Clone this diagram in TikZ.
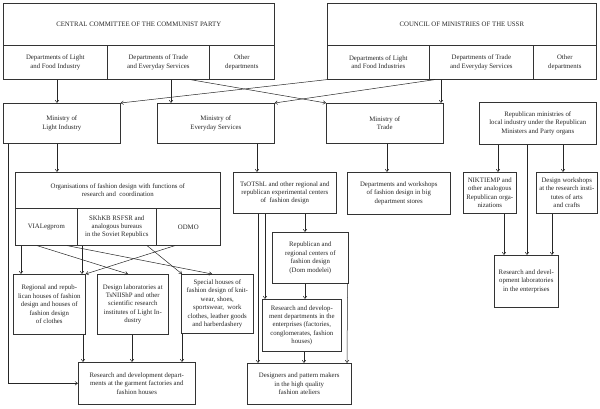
\documentclass[tikz,border=0pt]{standalone}
\usepackage{fontspec}
\setmainfont{Liberation Serif}
\usetikzlibrary{arrows.meta}
\tikzset{
  box/.style={draw=black!80, line width=0.6pt, inner sep=0.5pt, align=center,
    font=\fontsize{6.8}{8.4}\selectfont, text=black!85},
  conn/.style={draw=black!85, line width=0.5pt, -{Straight Barb[length=2.5pt,width=3.6pt]}},
}
\newcommand\mybox[6]{\node[box,anchor=north west,minimum width={(#4-#2)*1pt},minimum height={(#5-#3)*1pt}] (#1) at (#2,#3) {#6};}
\begin{document}
\begin{tikzpicture}[x=1pt,y=-1pt]
\useasboundingbox (0,0) rectangle (600,409);
% top composite boxes
\mybox{cc}{3}{3}{274}{45}{CENTRAL COMMITTEE OF THE COMMUNIST PARTY}
\mybox{ccL}{3}{45}{107}{79}{Departments of Light\\and Food Industry}
\mybox{ccT}{107}{45}{209}{79}{Departments of Trade\\and Everyday Services}
\mybox{ccO}{209}{45}{274}{79}{Other\\departments}
\mybox{cm}{327}{3}{596}{45}{COUNCIL OF MINISTRIES OF THE USSR}
\mybox{cmL}{327}{45}{429}{79}{Departments of Light\\and Food Industries}
\mybox{cmT}{429}{45}{533}{79}{Departments of Trade\\and Everyday Services}
\mybox{cmO}{533}{45}{596}{79}{Other\\departments}
% ministries
\mybox{mlI}{3}{103}{120}{143}{Ministry of\\Light Industry}
\mybox{meS}{157}{103}{274}{143}{Ministry of\\Everyday Services}
\mybox{mTr}{326}{103}{443}{143}{Ministry of\\Trade}
\mybox{rep}{479}{102}{596}{144}{Republican ministries of\\local industry under the Republican\\Ministers and Party organs}
% third row
\mybox{org}{15}{172}{220}{208}{Organisations of fashion design with functions of\\research and\ \ coordination}
\mybox{via}{15}{208}{77}{245}{VIALegprom}
\mybox{skh}{77}{208}{156}{245}{SKhKB RSFSR and\\analogous bureaus\\in the Soviet Republics}
\mybox{odm}{156}{208}{220}{245}{ODMO}
\mybox{tso}{233}{172}{336}{213}{TsOTShL and other regional and\\republican experimental centers\\of\ \ fashion design}
\mybox{dws}{347}{172}{450}{214}{Departments and workshops\\of fashion design in big\\department stores}
\mybox{nik}{463}{172}{516}{213}{NIKTIEMP and\\other analogous\\Republican orga-\\nizations}
\mybox{dwk}{536}{172}{597}{213}{Design workshops\\at the research insti-\\tutes of arts\\and crafts}
% fourth row
\mybox{rgh}{13}{274}{85}{334}{Regional and repub-\\lican houses of fashion\\design and houses of\\fashion design\\of clothes}
\mybox{dlb}{97}{274}{168}{334}{Design laboratories at\\TsNIIShP and other\\scientific research\\institutes of Light In-\\dustry}
\mybox{sph}{181}{274}{253}{333}{Special houses of\\fashion design of knit-\\wear, shoes,\\sportswear,\ \ work\\clothes, leather goods\\and harberdashery}
\mybox{rrc}{272}{232}{348}{283}{Republican and\\regional centers of\\fashion design\\(Dom modelei)}
\mybox{rde}{262}{299}{341}{351}{Research and develop-\\ment departments in the\\enterprises (factories,\\conglomerates, fashion\\houses)}
\mybox{rdl}{494}{255}{558}{307}{Research and devel-\\opment laboratories\\in the enterprises}
% bottom row
\mybox{rdg}{78}{362}{195}{404}{Research and development depart-\\ments at the garment factories and\\fashion houses}
\mybox{dsg}{247}{363}{351}{404}{Designers and pattern makers\\in the high quality\\fashion ateliers}
% connectors: top to ministries
\draw[conn] ([xshift=54pt]ccL.south west) -- ([xshift=54pt]mlI.north west);
\draw[conn] ([xshift=64pt]ccT.south west) -- ([xshift=14pt]meS.north west);
\draw[conn] ([xshift=83pt]ccT.south west) -- (mTr.north west);
\draw[conn] (cmL.south west) -- (mlI.north east);
\draw[conn] ([xshift=6pt]cmT.south west) -- (meS.north east);
\draw[conn] ([xshift=12pt]cmT.south west) -- ([xshift=115pt]mTr.north west);
% ministries to third row
\draw[conn] ([xshift=54pt]mlI.south west) -- ([xshift=42pt]org.north west);
\draw[conn] ([xshift=100pt]meS.south west) -- ([xshift=24pt]tso.north west);
\draw[conn] ([xshift=61pt]mTr.south west) -- ([xshift=40pt]dws.north west);
\draw[conn] ([xshift=19pt]rep.south west) -- ([xshift=35pt]nik.north west);
\draw[conn] ([xshift=48pt]rep.south west) -- ([xshift=33pt]rdl.north west);
\draw[conn] ([xshift=84pt]rep.south west) -- ([xshift=27pt]dwk.north west);
\draw[conn] ([xshift=41pt]nik.south west) -- ([xshift=10pt]rdl.north west);
\draw[conn] ([xshift=16pt]dwk.south west) -- ([xshift=58pt]rdl.north west);
% organisations to fourth row
\draw[conn] ([xshift=6pt]via.south west) -- ([xshift=8pt]rgh.north west);
\draw[conn] ([xshift=22pt]via.south west) -- ([xshift=31pt]dlb.north west);
\draw[conn] ([xshift=52pt]via.south west) -- ([xshift=31pt]sph.north west);
\draw[conn] ([xshift=5pt]skh.south west) -- ([xshift=69pt]rgh.north west);
\draw[conn] ([xshift=70pt]skh.south west) -- ([xshift=1pt]sph.north west);
\draw[conn] ([xshift=19pt]odm.south west) -- (rgh.north east);
% fourth row to garment R&D
\draw[conn] ([xshift=70pt]rgh.south west) -- ([xshift=5pt]rdg.north west);
\draw[conn] ([xshift=35pt]dlb.south west) -- ([xshift=54pt]rdg.north west);
\draw[conn] ([xshift=1pt]sph.south west) -- ([xshift=104pt]rdg.north west);
\draw[conn] ([xshift=5pt]mlI.south west) |- (rdg.west);
% fashion centers chain
\draw[conn] ([xshift=72pt]tso.south west) -- ([xshift=33pt]rrc.north west);
\draw[conn] ([xshift=33pt]rrc.south west) -- ([xshift=43pt]rde.north west);
\draw[conn] ([xshift=42pt]rde.south west) -- ([xshift=57pt]dsg.north west);
\draw[conn] ([xshift=25pt]tso.south west) -- ([xshift=11pt]dsg.north west);
\draw[conn] ([xshift=32pt]tso.south west) -- ([xshift=3pt]rde.north west);
\draw[conn] ([xshift=-1pt]rrc.south east) -- ([xshift=100pt]dsg.north west);
\end{tikzpicture}
\end{document}
